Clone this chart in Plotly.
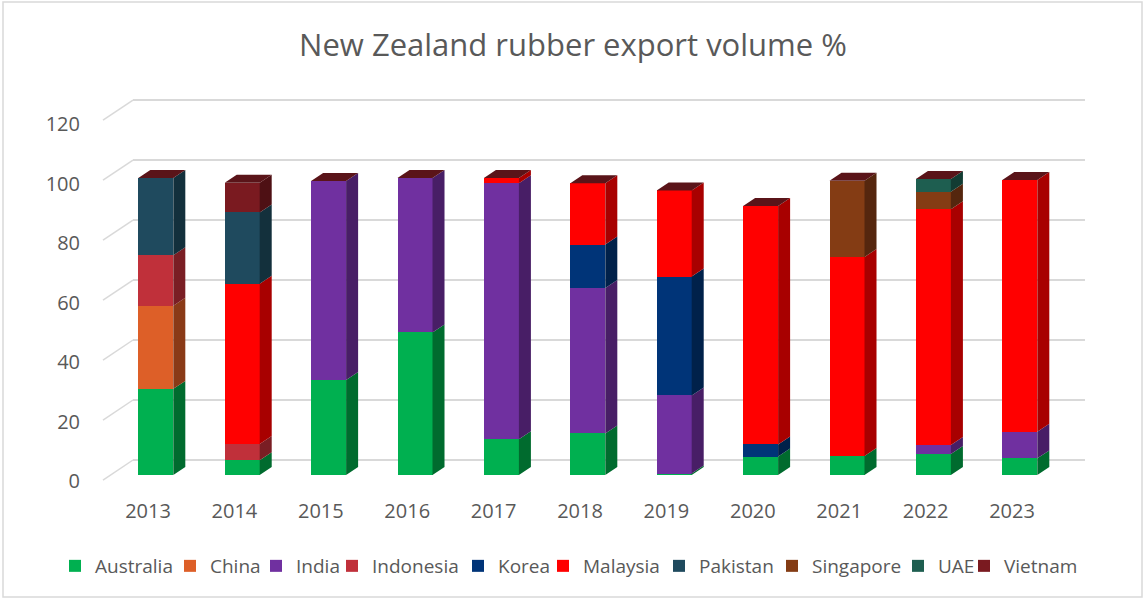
import plotly.graph_objects as go

years = ["2013", "2014", "2015", "2016", "2017", "2018", "2019", "2020", "2021", "2022", "2023"]

australia = [29, 5, 32, 48, 12, 14, 0.5, 6.2, 6.4, 7.1, 5.6]
china     = [28, 0, 0, 0, 0, 0, 0, 0, 0, 0, 0]
india     = [0, 0, 67, 52, 86.2, 49, 26.3, 0, 0, 3, 9]
indonesia = [17, 5.4, 0, 0, 0, 0, 0, 0, 0, 0, 0]
korea     = [0, 0, 0, 0, 0, 14.6, 40, 4.1, 0, 0, 0]
malaysia  = [0, 54, 0, 0, 1.8, 20.6, 29, 80.3, 67, 79.4, 84.7]
pakistan  = [26, 24, 0, 0, 0, 0, 0, 0, 0, 0, 0]
singapore = [0, 0, 0, 0, 0, 0, 0, 0, 25.7, 5.9, 0]
uae       = [0, 0, 0, 0, 0, 0, 0, 0, 0, 4.3, 0]
vietnam   = [0, 10, 0, 0, 0, 0, 0, 0, 0, 0, 0]

y_ticks = [0, 20, 40, 60, 80, 100, 120]

series = [
    ("Australia", australia, "#00B050", "#006B2E"),
    ("China", china, "#DD5F28", "#8A3A17"),
    ("India", india, "#7030A0", "#481E66"),
    ("Indonesia", indonesia, "#C0303A", "#7A1E24"),
    ("Korea", korea, "#003478", "#00214A"),
    ("Malaysia", malaysia, "#FF0000", "#A80000"),
    ("Pakistan", pakistan, "#1F4A5E", "#13303C"),
    ("Singapore", singapore, "#843C14", "#55260E"),
    ("UAE", uae, "#1E5E50", "#123C33"),
    ("Vietnam", vietnam, "#7A1A20", "#4E1014"),
]
top_color = "#5A1419"

# legend text start positions (px) as in the reference
legend_text_px = [93, 208, 294, 370, 496, 581, 697, 810, 936, 1002]

PL, PR, PT, PB = 133, 1085, 98, 481  # plot area in px
PW, PH = PR - PL, PB - PT

W = 0.405   # front face width (category units)
DX = 0.139  # depth offset in x
DY = 2.69   # depth offset in value units

xs = list(range(len(years)))
fig = go.Figure()

legends = {}
base = [0.0] * len(years)
for k, (name, vals, col, side) in enumerate(series):
    lname = "legend" if k == 0 else f"legend{k + 1}"
    legends[lname] = dict(
        orientation="h", x=(legend_text_px[k] - 38 - PL) / PW, xanchor="left",
        y=-(566 - PB) / PH, yanchor="middle", font=dict(size=19, color="#595959"),
        bgcolor="rgba(0,0,0,0)",
    )
    fig.add_trace(go.Bar(
        x=xs, y=vals, name=name, width=W, marker=dict(color=col, line=dict(width=0)),
        yaxis="y2", xaxis="x", legend=lname,
    ))
    px, py = [], []
    for i, v in enumerate(vals):
        if v > 0:
            xr = i + W / 2
            y0, y1 = base[i], base[i] + v
            px += [xr, xr + DX, xr + DX, xr, xr, None]
            py += [y0, y0 + DY, y1 + DY, y1, y0, None]
    if px:
        fig.add_trace(go.Scatter(
            x=px, y=py, mode="lines", fill="toself", fillcolor=side,
            line=dict(width=0, color=side), showlegend=False, hoverinfo="skip",
            yaxis="y2", xaxis="x",
        ))
    base = [b + v for b, v in zip(base, vals)]

# top caps
tx, ty = [], []
for i, t in enumerate(base):
    xl, xr = i - W / 2, i + W / 2
    tx += [xl, xr, xr + DX, xl + DX, xl, None]
    ty += [t, t, t + DY, t + DY, t, None]
fig.add_trace(go.Scatter(
    x=tx, y=ty, mode="lines", fill="toself", fillcolor=top_color,
    line=dict(width=0, color=top_color), showlegend=False, hoverinfo="skip",
    yaxis="y2", xaxis="x",
))

# invisible trace for tick label axis
fig.add_trace(go.Scatter(x=[0], y=[0], mode="markers", marker=dict(opacity=0),
                         showlegend=False, hoverinfo="skip", yaxis="y3", xaxis="x"))

shapes = []
for v in y_ticks:
    shapes.append(dict(type="line", xref="paper", yref="y", x0=(103 - PL) / PW, x1=0.0,
                       y0=v - 6.7, y1=v, line=dict(color="#D9D9D9", width=1.5), layer="below"))
# chart border
shapes.append(dict(type="rect", xref="paper", yref="paper",
                   x0=(3 - PL) / PW, x1=(1142 - PL) / PW,
                   y0=(PB - 597) / PH, y1=(PB - 2) / PH,
                   line=dict(color="#D9D9D9", width=1.5), layer="below"))

fig.update_layout(
    width=1145, height=600,
    margin=dict(l=PL, r=1145 - PR, t=PT, b=600 - PB, autoexpand=False),
    paper_bgcolor="white", plot_bgcolor="white",
    barmode="stack", bargap=0,
    font=dict(family="Open Sans", color="#595959"),
    title=dict(text="New Zealand rubber export volume %", x=573 / 1145, xanchor="center",
               y=1 - 45 / 600, yanchor="middle", font=dict(size=31, color="#595959", family="Open Sans")),
    xaxis=dict(range=[(PL - 155.8) / 86.4, (PR - 155.8) / 86.4], tickmode="array",
               tickvals=[i - 0.09 for i in xs], ticktext=years, showgrid=False, zeroline=False,
               showline=False, ticks="outside", ticklen=12, tickcolor="rgba(0,0,0,0)",
               tickfont=dict(size=20, color="#595959")),
    yaxis=dict(range=[-7, 120.67], tickvals=y_ticks, showgrid=True, gridcolor="#D9D9D9",
               gridwidth=1.5, showticklabels=False, zeroline=False, showline=False),
    yaxis2=dict(range=[-2.02, 126.94], overlaying="y", showgrid=False, showticklabels=False,
                zeroline=False, showline=False),
    yaxis3=dict(range=[0, 128.74], overlaying="y", tickvals=y_ticks, showgrid=False,
                zeroline=False, showline=False, ticks="outside", ticklen=48,
                tickcolor="rgba(0,0,0,0)", tickfont=dict(size=20, color="#595959")),
    shapes=shapes,
    **legends,
)

fig.write_html("out.html")
